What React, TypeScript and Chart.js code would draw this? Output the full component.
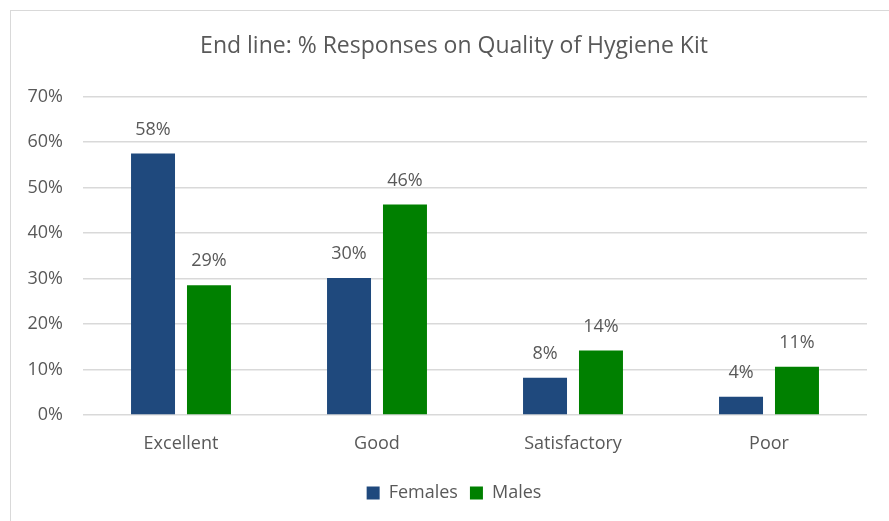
import React, { useEffect, useRef } from "react";
import { Chart, registerables } from "chart.js";

Chart.register(...registerables);

const TITLE = "End line: % Responses on Quality of Hygiene Kit";
const categories = ["Excellent", "Good", "Satisfactory", "Poor"];
const females = [57.5, 30.1, 8.2, 4.0];
const males = [28.5, 46.3, 14.2, 10.6];
const yTicks = [0, 10, 20, 30, 40, 50, 60, 70];

const FONT = "'Open Sans', 'Noto Sans', sans-serif";
const TEXT = "#595959";
const GRID = "#d9d9d9";

const valueLabels = {
  id: "valueLabels",
  afterDatasetsDraw(chart: any) {
    const ctx = chart.ctx;
    ctx.save();
    ctx.font = `18px ${FONT}`;
    ctx.fillStyle = TEXT;
    ctx.textAlign = "center";
    ctx.textBaseline = "middle";
    chart.data.datasets.forEach((ds: any, i: number) => {
      const meta = chart.getDatasetMeta(i);
      meta.data.forEach((bar: any, j: number) => {
        const v = ds.data[j] as number;
        ctx.fillText(`${Math.round(v)}%`, bar.x, bar.y - 24);
      });
    });
    ctx.restore();
  },
};

export default function App() {
  const ref = useRef<HTMLCanvasElement | null>(null);

  useEffect(() => {
    if (!ref.current) return;
    const chart = new Chart(ref.current, {
      type: "bar",
      data: {
        labels: categories,
        datasets: [
          {
            label: "Females",
            data: females,
            backgroundColor: "#1f497d",
            categoryPercentage: 0.571,
            barPercentage: 0.786,
          },
          {
            label: "Males",
            data: males,
            backgroundColor: "#008000",
            categoryPercentage: 0.571,
            barPercentage: 0.786,
          },
        ],
      },
      options: {
        responsive: false,
        animation: false,
        layout: { padding: { left: 0, right: 0, top: 0, bottom: 9 } },
        plugins: {
          title: {
            display: true,
            text: TITLE,
            color: TEXT,
            font: { family: FONT, size: 23, weight: "normal" },
            padding: { top: 23, bottom: 36 },
          },
          legend: {
            position: "bottom",
            labels: {
              color: TEXT,
              font: { family: FONT, size: 18 },
              boxWidth: 13,
              boxHeight: 13,
              padding: 12,
            },
          },
          tooltip: { enabled: false },
        },
        scales: {
          x: {
            grid: { display: false, drawTicks: false },
            border: { display: false },
            ticks: {
              color: TEXT,
              font: { family: FONT, size: 18 },
              padding: 18,
            },
            afterFit: (s: any) => {
              s.height = 57;
            },
          },
          y: {
            min: 0,
            max: 70,
            afterBuildTicks: (s: any) => {
              s.ticks = yTicks.map((v) => ({ value: v }));
            },
            grid: { color: GRID, lineWidth: 1.5, drawTicks: false },
            border: { display: false },
            ticks: {
              color: TEXT,
              font: { family: FONT, size: 18 },
              padding: 20,
              callback: (v: any) => `${v}%`,
            },
            afterFit: (s: any) => {
              s.width = 73;
            },
          },
          yRight: {
            position: "right",
            display: true,
            grid: { display: false, drawTicks: false },
            border: { display: false },
            ticks: { display: false },
            afterFit: (s: any) => {
              s.width = 31;
            },
          },
        },
      },
      plugins: [valueLabels],
    });
    return () => chart.destroy();
  }, []);

  return (
    <div
      style={{
        position: "fixed",
        left: 0,
        top: 0,
        width: 889,
        height: 521,
        overflow: "hidden",
        background: "#ffffff",
      }}
    >
      <div
        style={{
          position: "absolute",
          left: 10,
          top: 10,
          width: 900,
          height: 600,
          border: `1px solid ${GRID}`,
          boxSizing: "border-box",
        }}
      />
      <canvas
        ref={ref}
        width={888}
        height={511}
        style={{ position: "absolute", left: 10, top: 10, width: 888, height: 511 }}
      />
    </div>
  );
}
